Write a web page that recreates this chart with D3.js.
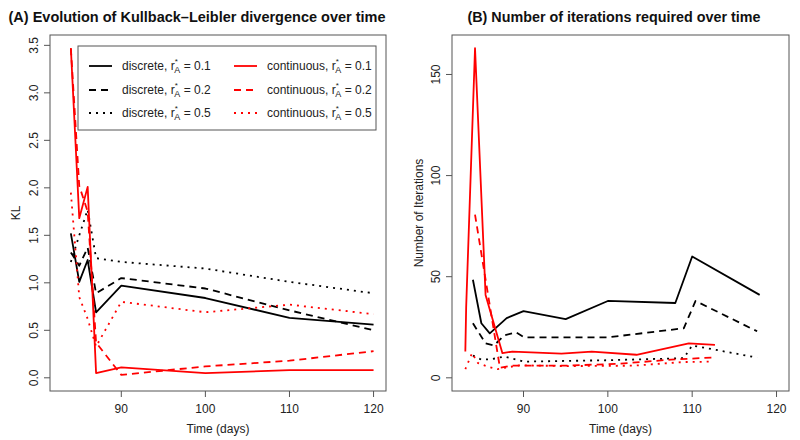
<!DOCTYPE html>
<html><head><meta charset="utf-8">
<script src="https://cdn.jsdelivr.net/npm/d3@7/dist/d3.min.js"></script>
<style>body{margin:0;background:#fff}svg{display:block}</style>
</head><body><svg id="c" width="800" height="440"></svg>
<script>
// ---------- Data ----------
const xTicks = [90, 100, 110, 120];
const yTicksA = [0, 0.5, 1, 1.5, 2, 2.5, 3, 3.5];
const yTicksB = [0, 50, 100, 150];

// Panel A: KL divergence
const timeA = [84, 85, 86, 87, 90, 100, 110, 120];
const klDisc01 = [1.52, 1.01, 1.24, 0.69, 0.97, 0.84, 0.63, 0.56];
const klDisc02 = [1.32, 1.18, 1.37, 0.89, 1.05, 0.94, 0.71, 0.50];
const klDisc05 = [1.22, 1.50, 1.77, 1.26, 1.22, 1.15, 1.01, 0.89];
const klCont01 = [3.47, 1.68, 2.01, 0.05, 0.11, 0.05, 0.08, 0.08];
const klCont02 = [3.47, 2.02, 1.75, 0.37, 0.03, 0.12, 0.18, 0.28];
const klCont05 = [1.95, 0.85, 0.62, 0.33, 0.80, 0.69, 0.77, 0.67];

// Panel B: number of iterations
const itDisc01T = [84, 85, 86, 88, 90, 95, 100, 108, 110, 118];
const itDisc01 = [48.5, 27, 22, 29.5, 33, 29, 38, 37, 60, 41];
const itDisc02T = [84, 85.5, 86.5, 87.7, 89.1, 90.1, 100, 109, 110.4, 117.7];
const itDisc02 = [27, 17, 16, 21, 22.5, 20, 20, 24.5, 38, 23];
const itDisc05T = [84, 85, 86.2, 87.7, 90.1, 100, 109, 110, 117.7];
const itDisc05 = [11, 9, 9.2, 10.5, 8, 8.7, 9.7, 16, 10];
const itCont01T = [83.1, 83.2, 84.25, 85.5, 87.5, 88.7, 94.5, 98.1, 103.4, 109.6, 112.7];
const itCont01 = [13, 35, 163, 41, 12.2, 13, 12, 13, 11.4, 17, 16.3];
const itCont02T = [84.25, 87.2, 88.5, 95, 101.5, 107.5, 112.3];
const itCont02 = [80.7, 5, 6, 6, 7, 9, 10];
const itCont05T = [83.1, 83.9, 84.6, 85.7, 86.9, 89.5, 95, 103, 109, 112.3];
const itCont05 = [4.3, 12.2, 7.3, 5.6, 4.3, 6.2, 5.8, 6, 7.8, 8];

const legendLabels = ["discrete", "discrete", "discrete", "continuous", "continuous", "continuous"];
const legendR = ["0.1", "0.2", "0.5", "0.1", "0.2", "0.5"];

// ---------- Styles ----------
const FONT = "'Liberation Sans', Arial, Helvetica, sans-serif";
const styles = [
  {color: "#000", dash: null},
  {color: "#000", dash: "7,5"},
  {color: "#000", dash: "2,5"},
  {color: "#ff0000", dash: null},
  {color: "#ff0000", dash: "7,5"},
  {color: "#ff0000", dash: "2,5"}
];

const svg = d3.select("#c");

function panel(cfg) {
  const x = d3.scaleLinear().domain([81.52, 121.48]).range([cfg.x0, cfg.x1]);
  const y = d3.scaleLinear().domain(cfg.ydom).range([cfg.y1, cfg.y0]);
  const g = svg.append("g");

  // series
  cfg.series.forEach((s, i) => {
    const pts = s.t.map((t, k) => [t, s.v[k]]);
    g.append("path")
      .attr("d", d3.line().x(d => x(d[0])).y(d => y(d[1]))(pts))
      .attr("fill", "none")
      .attr("stroke", styles[i].color)
      .attr("stroke-width", 1.8)
      .attr("stroke-dasharray", styles[i].dash)
      .attr("stroke-linejoin", "round");
  });

  // box
  g.append("rect").attr("x", cfg.x0).attr("y", cfg.y0)
    .attr("width", cfg.x1 - cfg.x0).attr("height", cfg.y1 - cfg.y0)
    .attr("fill", "none").attr("stroke", "#555").attr("stroke-width", 1);

  // x axis
  xTicks.forEach(t => {
    g.append("line").attr("x1", x(t)).attr("x2", x(t)).attr("y1", cfg.y1).attr("y2", cfg.y1 + 6)
      .attr("stroke", "#555");
    g.append("text").attr("x", x(t)).attr("y", cfg.y1 + 22).attr("text-anchor", "middle")
      .attr("font-family", FONT).attr("font-size", 12).attr("fill", "#222").text(t);
  });
  g.append("text").attr("x", (cfg.x0 + cfg.x1) / 2).attr("y", cfg.y1 + 42).attr("text-anchor", "middle")
    .attr("font-family", FONT).attr("font-size", 12).attr("fill", "#222").text("Time (days)");

  // y axis
  cfg.yTicks.forEach(t => {
    g.append("line").attr("x1", cfg.x0 - 6).attr("x2", cfg.x0).attr("y1", y(t)).attr("y2", y(t))
      .attr("stroke", "#555");
    g.append("text").attr("transform", `translate(${cfg.x0 - 12},${y(t)}) rotate(-90)`)
      .attr("text-anchor", "middle").attr("font-family", FONT).attr("font-size", 12).attr("fill", "#222")
      .text(cfg.yFmt(t));
  });
  g.append("text").attr("transform", `translate(${cfg.ylabX},${(cfg.y0 + cfg.y1) / 2}) rotate(-90)`)
    .attr("text-anchor", "middle").attr("font-family", FONT).attr("font-size", 12).attr("fill", "#222")
    .text(cfg.ylab);

  // title
  const tt = svg.append("text").attr("x", cfg.titleX).attr("y", 22).attr("text-anchor", "middle")
    .attr("font-family", FONT).attr("font-size", 14.5).attr("font-weight", "bold").attr("fill", "#111")
    .text(cfg.title);
  const w = tt.node().getComputedTextLength();
  if (w > cfg.titleW) tt.attr("textLength", cfg.titleW).attr("lengthAdjust", "spacingAndGlyphs");
  return {x, y};
}

panel({
  x0: 50, x1: 386, y0: 35, y1: 391, ydom: [-0.139, 3.609], yTicks: yTicksA,
  yFmt: d3.format(".1f"), ylab: "KL", ylabX: 20,
  title: "(A) Evolution of Kullback\u2013Leibler divergence over time", titleX: 197, titleW: 377,
  series: [
    {t: timeA, v: klDisc01}, {t: timeA, v: klDisc02}, {t: timeA, v: klDisc05},
    {t: timeA, v: klCont01}, {t: timeA, v: klCont02}, {t: timeA, v: klCont05}
  ]
});

panel({
  x0: 452, x1: 789, y0: 35, y1: 391, ydom: [-6.52, 169.52], yTicks: yTicksB,
  yFmt: d3.format("d"), ylab: "Number of Iterations", ylabX: 423,
  title: "(B) Number of iterations required over time", titleX: 614, titleW: 293,
  series: [
    {t: itDisc01T, v: itDisc01}, {t: itDisc02T, v: itDisc02}, {t: itDisc05T, v: itDisc05},
    {t: itCont01T, v: itCont01}, {t: itCont02T, v: itCont02}, {t: itCont05T, v: itCont05}
  ]
});

// ---------- Legend ----------
const lg = svg.append("g");
lg.append("rect").attr("x", 78).attr("y", 46).attr("width", 298).attr("height", 84)
  .attr("fill", "#fff").attr("stroke", "#555").attr("stroke-width", 1);
const rowsY = [66, 90, 113];
legendLabels.forEach((lab, i) => {
  const col = i < 3 ? 0 : 1;
  const row = i % 3;
  const lx0 = col === 0 ? 89 : 234;
  const tx = col === 0 ? 122 : 267;
  const cy = rowsY[row];
  lg.append("line").attr("x1", lx0).attr("x2", lx0 + 23).attr("y1", cy).attr("y2", cy)
    .attr("stroke", styles[i].color).attr("stroke-width", 1.8)
    .attr("stroke-dasharray", styles[i].dash);
  const t = lg.append("text").attr("x", tx).attr("y", cy + 4)
    .attr("font-family", FONT).attr("font-size", 12).attr("fill", "#222");
  t.append("tspan").text(lab + ", r");
  t.append("tspan").attr("font-size", 8).attr("dy", -6).text("*");
  t.append("tspan").attr("font-size", 9).attr("dx", -3.5).attr("dy", 9).text("A");
  t.append("tspan").attr("dy", -3).text(" = " + legendR[i]);
});
</script>
</body></html>
